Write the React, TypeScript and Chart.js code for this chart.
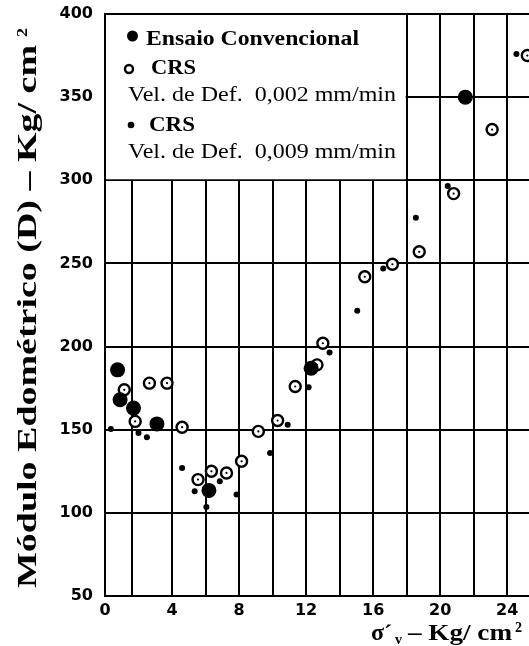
import React, { useEffect, useRef } from 'react';
import { Chart, registerables } from 'chart.js';

Chart.register(...registerables);

// Ensaio convencional: tensão efetiva vertical (kg/cm²) x módulo edométrico (kg/cm²)
const convencionalX = [0.75, 0.9, 1.7, 3.1, 6.2, 12.3, 21.5];
const convencionalY = [186, 168, 163, 153.5, 113.5, 187, 350];

// CRS, velocidade de deformação 0,002 mm/min
const crs002X = [1.15, 1.8, 2.65, 3.7, 4.6, 5.55, 6.35, 7.25, 8.15, 9.15, 10.3, 11.35, 12.65, 13.0, 15.5, 17.15, 18.75, 20.8, 23.1, 25.2];
const crs002Y = [174, 155, 178, 178, 151.5, 120, 125, 124, 131, 149, 155.5, 176, 189, 202, 242, 249.5, 257, 292, 330.5, 375];

// CRS, velocidade de deformação 0,009 mm/min
const crs009X = [0.35, 2.0, 2.5, 4.6, 5.35, 6.05, 6.85, 7.85, 9.85, 10.9, 12.15, 13.4, 15.05, 16.6, 18.55, 20.45, 24.55];
const crs009Y = [150.5, 148, 145.5, 127, 113, 103.5, 119, 111, 136, 153, 175.5, 196.5, 221.5, 247, 277.5, 296.5, 376];

// vertical grid lines and the ones that carry a label
const xGridValues = [0, 1.6, 4, 6, 8, 10, 12, 14, 16, 18, 20, 22, 24];
const xLabelValues = [0, 4, 8, 12, 16, 20, 24];

const yTitle = 'Módulo Edométrico (D) – Kg/ cm';
const legendRows = ['Ensaio Convencional', 'CRS', 'Vel. de Def.  0,002 mm/min', 'CRS', 'Vel. de Def.  0,009 mm/min'];

const toPoints = (xs: number[], ys: number[]) => xs.map((x, i) => ({ x, y: ys[i] }));

const SERIF = '"Liberation Serif", "Times New Roman", serif';

function fitText(ctx: CanvasRenderingContext2D, text: string, x: number, y: number, font: string, width: number) {
  ctx.font = font;
  const w = ctx.measureText(text).width;
  ctx.save();
  ctx.translate(x, y);
  ctx.scale(width / w, 1);
  ctx.fillText(text, 0, 0);
  ctx.restore();
}

// keep the plot area fixed: no extra room reserved for overhanging tick labels
const noLabelPadding = (scale: any) => {
  scale.paddingTop = 0;
  scale.paddingBottom = 0;
  scale.paddingLeft = 0;
  scale.paddingRight = 0;
};

const panelPlugin = {
  id: 'panel',
  beforeDatasetsDraw(chart: any) {
    const { ctx, scales } = chart;
    const xs = scales.x;
    const ys = scales.y;
    const x0 = xs.getPixelForValue(0);
    const x1 = xs.getPixelForValue(18);
    const y0 = ys.getPixelForValue(400);
    const y1 = ys.getPixelForValue(300);
    ctx.save();
    ctx.fillStyle = '#fff';
    ctx.fillRect(x0 + 1, y0 + 1, x1 - x0 - 2, y1 - y0 - 2);

    const L = x0;
    const T = y0;
    ctx.fillStyle = '#000';
    ctx.strokeStyle = '#000';
    ctx.textAlign = 'left';
    ctx.textBaseline = 'alphabetic';

    // Ensaio convencional marker
    ctx.beginPath();
    ctx.arc(L + 27.5, T + 22, 5.5, 0, Math.PI * 2);
    ctx.fill();
    fitText(ctx, legendRows[0], L + 41, T + 31, `bold 20px ${SERIF}`, 213);

    // CRS 0,002 marker
    ctx.lineWidth = 2.4;
    ctx.beginPath();
    ctx.arc(L + 24, T + 55, 4, 0, Math.PI * 2);
    ctx.stroke();
    fitText(ctx, legendRows[1], L + 46, T + 60, `bold 21px ${SERIF}`, 45);
    fitText(ctx, legendRows[2], L + 23, T + 87, `20px ${SERIF}`, 268);

    // CRS 0,009 marker
    ctx.beginPath();
    ctx.arc(L + 26, T + 111, 3.3, 0, Math.PI * 2);
    ctx.fill();
    fitText(ctx, legendRows[3], L + 44, T + 117, `bold 21px ${SERIF}`, 46);
    fitText(ctx, legendRows[4], L + 23, T + 144, `20px ${SERIF}`, 268);
    ctx.restore();
  },
  afterDraw(chart: any) {
    const { ctx } = chart;
    ctx.save();
    ctx.fillStyle = '#000';
    ctx.textAlign = 'left';
    ctx.textBaseline = 'alphabetic';

    // y axis title, rotated
    ctx.save();
    ctx.translate(36, 588);
    ctx.rotate(-Math.PI / 2);
    fitText(ctx, yTitle, 0, 0, `bold 27px ${SERIF}`, 543);
    ctx.font = `bold 14px ${SERIF}`;
    ctx.save();
    ctx.translate(551, -9);
    ctx.scale(1.3, 1);
    ctx.fillText('2', 0, 0);
    ctx.restore();
    ctx.restore();

    // x axis title: σ´v – Kg/ cm²
    ctx.font = `bold 24px ${SERIF}`;
    ctx.fillText('σ', 371, 640);
    ctx.fillText('´', 384, 641);
    ctx.font = `bold 14px ${SERIF}`;
    ctx.fillText('v', 395, 644);
    fitText(ctx, '– Kg/ cm', 408, 640, `bold 24px ${SERIF}`, 104);
    ctx.font = `bold 14px ${SERIF}`;
    ctx.fillText('2', 515, 632);
    ctx.restore();
  },
};

export default function App() {
  const canvasRef = useRef<HTMLCanvasElement | null>(null);

  useEffect(() => {
    const canvas = canvasRef.current;
    if (!canvas) return;
    const tickFont = { family: '"DejaVu Sans", sans-serif', size: 16, weight: 'bold' as const };
    const chart = new Chart(canvas, {
      type: 'scatter',
      data: {
        datasets: [
          {
            label: 'CRS 0,009 mm/min',
            data: toPoints(crs009X, crs009Y),
            pointRadius: 3,
            pointBackgroundColor: '#000',
            pointBorderWidth: 0,
            order: 0,
          },
          {
            label: 'Ensaio Convencional',
            data: toPoints(convencionalX, convencionalY),
            pointRadius: 7.5,
            pointBackgroundColor: '#000',
            pointBorderWidth: 0,
            order: 1,
          },
          {
            label: 'CRS 0,002 mm/min (centro)',
            data: toPoints(crs002X, crs002Y),
            pointRadius: 1.1,
            pointBackgroundColor: '#000',
            pointBorderWidth: 0,
            order: 2,
          },
          {
            label: 'CRS 0,002 mm/min',
            data: toPoints(crs002X, crs002Y),
            pointRadius: 5.5,
            pointBackgroundColor: '#fff',
            pointBorderColor: '#000',
            pointBorderWidth: 2.4,
            order: 3,
          },
        ],
      },
      options: {
        responsive: false,
        animation: false,
        devicePixelRatio: 1,
        events: [],
        layout: { autoPadding: false, padding: { top: 14, right: 0, bottom: 0, left: 0 } },
        plugins: {
          legend: { display: false },
          tooltip: { enabled: false },
        },
        scales: {
          x: {
            type: 'linear',
            min: 0,
            max: 25.3,
            afterBuildTicks: (scale: any) => {
              scale.ticks = xGridValues.map((v) => ({ value: v }));
            },
            afterFit: (scale: any) => {
              scale.height = 50;
              noLabelPadding(scale);
            },
            ticks: {
              autoSkip: false,
              maxRotation: 0,
              padding: 5,
              color: '#000',
              font: tickFont,
              callback: (v: any) => (xLabelValues.includes(Number(v)) ? String(v) : ''),
            },
            grid: { color: '#000', lineWidth: 2, drawTicks: false },
            border: { display: true, color: '#000', width: 2 },
          },
          y: {
            type: 'linear',
            min: 50,
            max: 400,
            afterFit: (scale: any) => {
              scale.width = 105;
              noLabelPadding(scale);
            },
            ticks: {
              stepSize: 50,
              padding: 12,
              color: '#000',
              font: tickFont,
            },
            grid: { color: '#000', lineWidth: 2, drawTicks: false },
            border: { display: true, color: '#000', width: 2 },
          },
        },
      },
      plugins: [panelPlugin],
    });
    return () => chart.destroy();
  }, []);

  return (
    <div style={{ position: 'absolute', left: 0, top: 0, width: 529, height: 646, background: '#fff' }}>
      <canvas ref={canvasRef} width={529} height={646} style={{ display: 'block' }} />
    </div>
  );
}
